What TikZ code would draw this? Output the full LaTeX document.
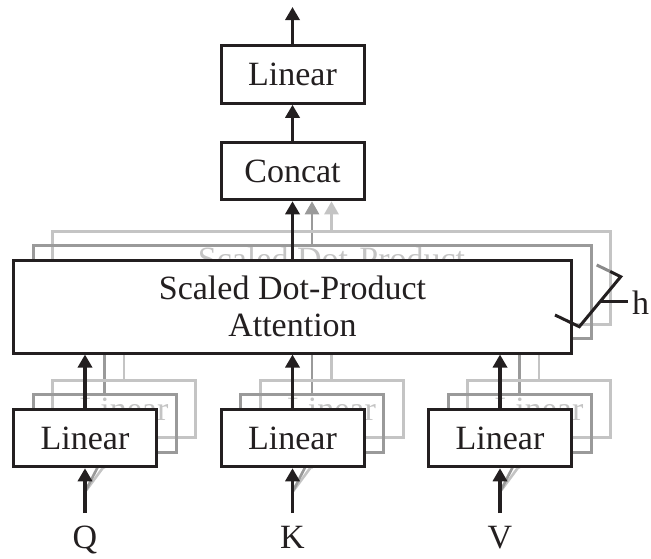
\documentclass[tikz,border=0pt]{standalone}
\usepackage{fontspec}
\setmainfont{Liberation Serif}
\usetikzlibrary{arrows.meta,backgrounds}
\definecolor{ink}{HTML}{231F20}
\definecolor{headgray}{HTML}{9A9A9A}
\definecolor{faintgray}{HTML}{C4C4C4}
\definecolor{tickgray}{HTML}{8A8A8A}
\tikzset{
  blk/.style={draw, line width=3pt, minimum width=143pt, minimum height=57.5pt,
    inner sep=0pt, font=\fontsize{34}{37}\selectfont, align=center},
  mainblk/.style={blk, draw=ink, fill=white, text=ink},
  headtwo/.style={blk, draw=headgray, text=headgray},
  headthree/.style={blk, draw=faintgray, text=faintgray},
  widebox/.style={minimum width=558pt, minimum height=93pt},
  arr/.style={draw=ink, line width=3.3pt, -{Triangle[length=13pt,width=14pt]}},
  arrtwo/.style={draw=headgray, line width=2.6pt, -{Triangle[length=13pt,width=14pt]}},
  arrthree/.style={draw=faintgray, line width=2.6pt, -{Triangle[length=13pt,width=14pt]}},
  brace/.style={draw=ink, line width=3pt},
  lbl/.style={font=\fontsize{34}{37}\selectfont, text=ink, inner sep=0pt},
}
\begin{document}
\begin{tikzpicture}[x=1pt,y=-1pt]
\useasboundingbox (0,0) rectangle (651,558);

% third head (faintest copy); only the top of its labels shows
\node[headthree, widebox] (sdpa3) at (331.5,277.5) {Scaled Dot-Product\\\phantom{Attention}};
\foreach \n/\x in {q/85,k/292.5,v/500}
  \node[headthree] (l\n3) at (\x+39,409) {Linear};

% second head, its labels lie wholly behind the front boxes
\node[headtwo, widebox] (sdpa2) at (312,292) {};
\foreach \n/\x in {q/85,k/292.5,v/500}
  \node[headtwo] (l\n2) at (\x+19.5,423.5) {};

% front head and output stack
\node[mainblk, widebox] (sdpa) at (292.5,306.5) {Scaled Dot-Product\\Attention};
\foreach \n/\x in {q/85,k/292.5,v/500}
  \node[mainblk] (l\n) at (\x,438) {Linear};
\node[mainblk] (concat) at (292.5,171) {Concat};
\node[mainblk] (lin) at (292.5,74.5) {Linear};

% inputs
\node[lbl, anchor=base] (Q) at (85,548) {Q};
\node[lbl, anchor=base] (K) at (292.5,548) {K};
\node[lbl, anchor=base] (V) at (500,548) {V};
\coordinate (q0) at (85,513);
\coordinate (k0) at (292.5,513);
\coordinate (v0) at (500,513);
\coordinate (qb) at (85,492);
\coordinate (kb) at (292.5,492);
\coordinate (vb) at (500,492);
\coordinate (out) at (292.5,7);

% connectors of the back heads, hidden behind the front boxes
\begin{scope}[on background layer]
  \foreach \n in {q,k,v} {
    \draw[arrthree] (\n b) -- (l\n3.south);
    \draw[arrtwo] (\n b) -- (l\n2.south);
    \draw[arrthree] (l\n3.north) -- (l\n3.north |- sdpa3.south);
    \draw[arrtwo] (l\n2.north) -- (l\n2.north |- sdpa2.south);
  }
  \draw[arrthree] (lk3.north |- sdpa3.north) -- (lk3.north |- concat.south);
  \draw[arrtwo] (lk2.north |- sdpa2.north) -- (lk2.north |- concat.south);
\end{scope}

% front connectors
\foreach \n in {q,k,v} {
  \draw[arr] (\n 0) -- (l\n.south);
  \draw[arr] (l\n.north) -- (l\n.north |- sdpa.south);
}
\draw[arr] (concat.south |- sdpa.north) -- (concat.south);
\draw[arr] (concat.north) -- (lin.south);
\draw[arr] (lin.north) -- (out);

% bracket marking the h parallel heads
\coordinate (b1) at (555,315);
\coordinate (b2) at (579.3,326.7);
\coordinate (b3) at (620.7,276.7);
\coordinate (b4) at (596.7,265);
\coordinate (b5) at (610,271.4);
\coordinate (bm) at (600,301.7);
\coordinate (bh) at (627.7,301.7);
\draw[brace, line join=miter] (b1) -- (b2) -- (b3) -- (b5);
\draw[draw=tickgray, line width=3pt] (b5) -- (b4);
\draw[brace] (bm) -- (bh);
\node[lbl, anchor=base west] (h) at (632,314) {h};
\end{tikzpicture}
\end{document}
